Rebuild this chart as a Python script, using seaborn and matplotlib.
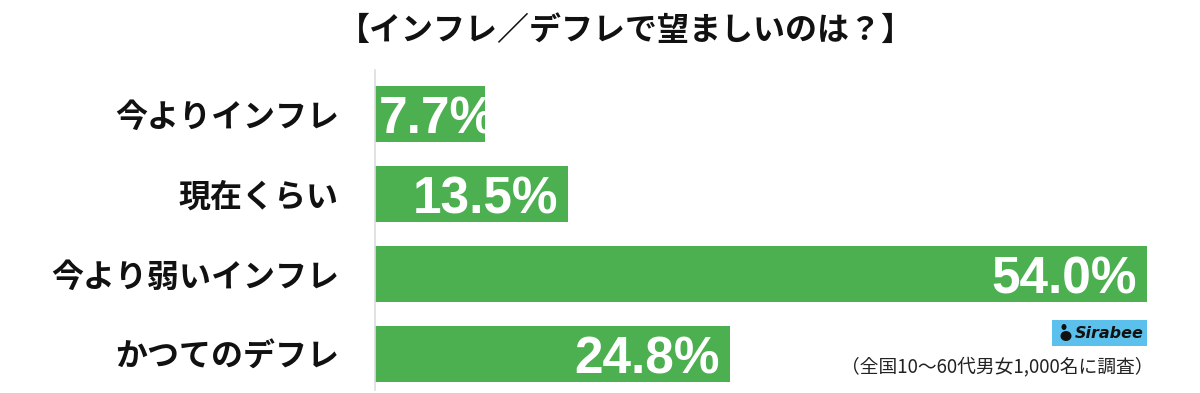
import matplotlib
matplotlib.use("Agg")
import matplotlib.pyplot as plt
import seaborn as sns
import pandas as pd
from matplotlib.patches import Rectangle, Ellipse

categories = ["今よりインフレ", "現在くらい", "今より弱いインフレ", "かつてのデフレ"]
values = [7.7, 13.5, 54.0, 24.8]
title = "【インフレ／デフレで望ましいのは？】"
source = "（全国10〜60代男女1,000名に調査）"
brand = "Sirabee"

sns.set_theme(style="white")
plt.rcParams['font.family'] = ['Noto Sans CJK JP', 'DejaVu Sans']

df = pd.DataFrame({"cat": categories, "val": values})

W, H = 1200, 393
fig = plt.figure(figsize=(W / 100, H / 100), dpi=100)
ax = fig.add_axes([375 / W, 1 - 390 / H, (1147 - 375) / W, (390 - 70) / H])

green = "#4CAF50"
sns.barplot(data=df, x="val", y="cat", orient="h", color=green, saturation=1,
            width=0.71, ax=ax, edgecolor="none")

ax.set_xlim(0, 54.0)
ax.set_ylim(3.45, -0.55)
ax.set_xlabel("")
ax.set_ylabel("")
ax.set_xticks([])
ax.set_yticks(range(len(categories)))
ax.set_yticklabels(categories, fontsize=23, fontweight="bold", color="#111111")
ax.tick_params(axis="y", length=0, pad=26)
for s in ["top", "right", "bottom"]:
    ax.spines[s].set_visible(False)
ax.spines["left"].set_color("#dddddd")
ax.spines["left"].set_linewidth(1.2)

fig.canvas.draw()
for bar, v in zip(ax.patches, values):
    label = f"{v:.1f}%"
    yc = bar.get_y() + bar.get_height() / 2
    if v < 10:
        t = ax.annotate(label, xy=(0, yc), xytext=(3, 0), textcoords="offset points",
                        ha="left", va="center_baseline", fontsize=37, fontweight="bold",
                        color="white", family=["Liberation Sans", "DejaVu Sans"])
    else:
        t = ax.annotate(label, xy=(v, yc), xytext=(-7, 0), textcoords="offset points",
                        ha="right", va="center_baseline", fontsize=37, fontweight="bold",
                        color="white", family=["Liberation Sans", "DejaVu Sans"])
    t.set_clip_path(bar)

fig.text(626 / W, 1 - 31 / H, title, ha="center", va="center", fontsize=23,
         fontweight="bold", color="#111111")

# brand badge
fig.patches.append(Rectangle((1052 / W, 1 - 346 / H), 95 / W, 26 / H,
                             transform=fig.transFigure, facecolor="#5BC0EB",
                             edgecolor="none"))
fig.patches.append(Ellipse((1066 / W, 1 - 336 / H), 11 / W, 10 / H,
                           transform=fig.transFigure, facecolor="#111111",
                           edgecolor="none"))
fig.patches.append(Ellipse((1064 / W, 1 - 327 / H), 5 / W, 6 / H,
                           transform=fig.transFigure, facecolor="#111111",
                           edgecolor="none"))
fig.text(1075 / W, 1 - 333 / H, brand, ha="left", va="center", fontsize=11.5,
         fontweight="bold", style="italic", color="#111111",
         family=["DejaVu Sans"])
fig.text(1153 / W, 1 - 367 / H, source, ha="right", va="center", fontsize=13.5,
         color="#222222")

fig.savefig("out.png", dpi=100)
